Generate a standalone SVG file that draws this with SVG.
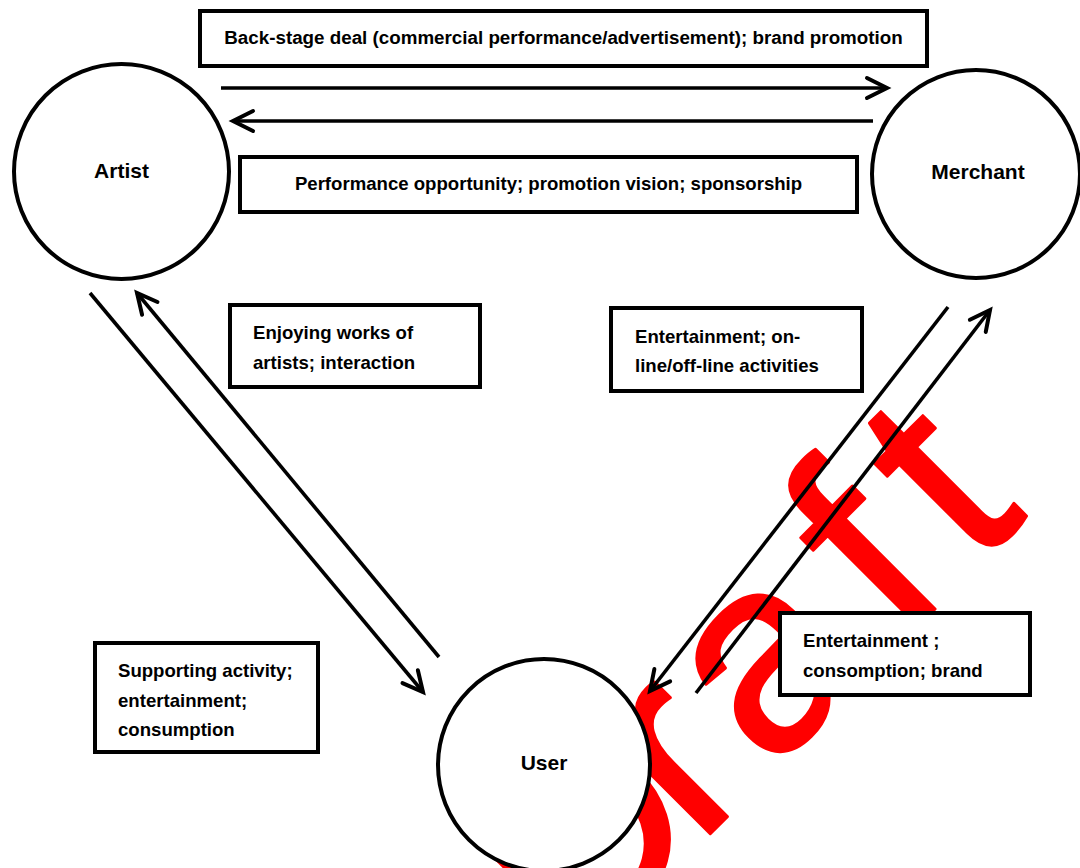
<svg xmlns="http://www.w3.org/2000/svg" width="1080" height="868" viewBox="0 0 1080 868">
  <style>
    .node { fill: #fff; stroke: #000; stroke-width: 4; }
    .box { fill: #fff; stroke: #000; stroke-width: 4; }
    .lbl { font-family: "Liberation Sans", Arial, sans-serif; font-weight: bold; font-size: 18.6px; fill: #000; }
    .nlbl { font-family: "Liberation Sans", Arial, sans-serif; font-weight: bold; font-size: 21px; fill: #000; text-anchor: middle; }
    .conn { stroke: #000; stroke-width: 3.6; fill: none; marker-end: url(#ah); }
    .wm { font-family: "Liberation Sans", Arial, sans-serif; font-size: 275px; fill: #ff0000; stroke: #ff0000; stroke-width: 3; stroke-linejoin: round; }
  </style>
  <defs>
    <marker id="ah" markerUnits="userSpaceOnUse" markerWidth="30" markerHeight="30" refX="21" refY="12" orient="auto" overflow="visible">
      <path d="M1,2 L21,12 L1,22" fill="none" stroke="#000" stroke-width="4" stroke-linecap="round" stroke-linejoin="miter"/>
    </marker>
  </defs>
  <rect width="1080" height="868" fill="#fff"/>

  <g id="watermark">
    <text class="wm" transform="translate(718,826) rotate(-45)" x="-203 -30 73.6 258.5 363" y="0">Draft</text>
  </g>

  <g id="connectors">
    <line class="conn" x1="221" y1="88" x2="887" y2="88"/>
    <line class="conn" x1="873" y1="121" x2="233" y2="121"/>
    <line class="conn" x1="90" y1="293" x2="423" y2="692"/>
    <line class="conn" x1="439" y1="657" x2="137" y2="293"/>
    <line class="conn" x1="948" y1="307" x2="650" y2="691"/>
    <line class="conn" x1="696" y1="693" x2="990" y2="310"/>
  </g>

  <g id="artist">
    <circle class="node" cx="121.5" cy="171.5" r="107.5"/>
    <text class="nlbl" x="121.5" y="178">Artist</text>
  </g>
  <g id="merchant">
    <circle class="node" cx="976" cy="174" r="104"/>
    <text class="nlbl" x="978" y="179">Merchant</text>
  </g>
  <g id="user">
    <circle class="node" cx="544" cy="765" r="106"/>
    <text class="nlbl" x="544" y="770">User</text>
  </g>

  <g id="label-backstage">
    <rect class="box" x="200" y="11" width="727" height="55"/>
    <text class="lbl" x="563.5" y="44" text-anchor="middle" style="font-size:18.8px">Back-stage deal (commercial performance/advertisement); brand promotion</text>
  </g>
  <g id="label-performance">
    <rect class="box" x="240" y="157" width="617" height="55"/>
    <text class="lbl" x="548.5" y="190" text-anchor="middle">Performance opportunity; promotion vision; sponsorship</text>
  </g>
  <g id="label-enjoying">
    <rect class="box" x="230" y="305" width="250" height="82"/>
    <text class="lbl" x="253" y="339">Enjoying works of</text>
    <text class="lbl" x="253" y="369">artists; interaction</text>
  </g>
  <g id="label-online">
    <rect class="box" x="611" y="308" width="251" height="83"/>
    <text class="lbl" x="635" y="343">Entertainment; on-</text>
    <text class="lbl" x="635" y="372">line/off-line activities</text>
  </g>
  <g id="label-consomption">
    <rect class="box" x="780" y="613" width="250" height="82"/>
    <text class="lbl" x="803" y="647">Entertainment ;</text>
    <text class="lbl" x="803" y="677">consomption; brand</text>
  </g>
  <g id="label-supporting">
    <rect class="box" x="95" y="643" width="223" height="109"/>
    <text class="lbl" x="118" y="677">Supporting activity;</text>
    <text class="lbl" x="118" y="707">entertainment;</text>
    <text class="lbl" x="118" y="736">consumption</text>
  </g>
</svg>
